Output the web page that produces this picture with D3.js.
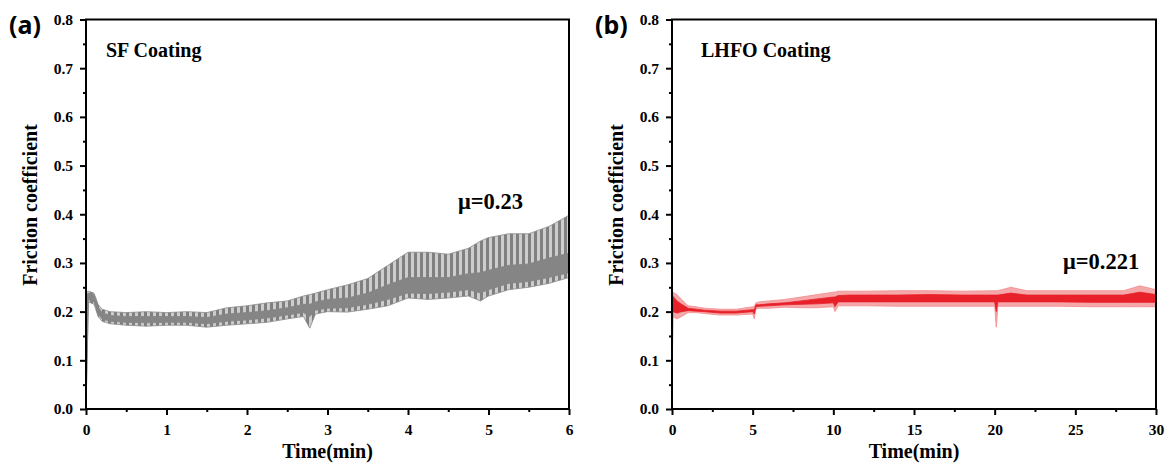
<!DOCTYPE html>
<html>
<head>
<meta charset="utf-8">
<script src="https://cdn.jsdelivr.net/npm/d3@7"></script>
<style>
  html, body { margin: 0; padding: 0; background: #fff; }
  svg { display: block; }
  .tick text { font-family: "Liberation Serif", "Times New Roman", serif; font-weight: bold; font-size: 15.5px; fill: #000; }
</style>
</head>
<body>
<svg id="chart" width="1166" height="466"></svg>
<script>
// ---------- DATA ----------
// Panel (a): SF coating, time in minutes, friction coefficient envelopes
const sfTime     = [0, 0.03, 0.1, 0.15, 0.2, 0.3, 0.5, 0.75, 1.0, 1.25, 1.5, 1.75, 2.0, 2.25, 2.5, 2.7, 2.78, 2.85, 3.0, 3.25, 3.5, 3.75, 4.0, 4.25, 4.5, 4.75, 4.9, 5.0, 5.25, 5.5, 5.75, 6.0];
const sfLow      = [0, 0.22, 0.215, 0.19, 0.18, 0.175, 0.172, 0.17, 0.172, 0.172, 0.168, 0.172, 0.175, 0.178, 0.185, 0.19, 0.166, 0.195, 0.2, 0.199, 0.205, 0.212, 0.228, 0.225, 0.228, 0.232, 0.222, 0.232, 0.245, 0.25, 0.258, 0.27];
const sfHigh     = [0.24, 0.242, 0.238, 0.215, 0.205, 0.2, 0.198, 0.2, 0.198, 0.2, 0.198, 0.208, 0.212, 0.218, 0.222, 0.232, 0.235, 0.238, 0.245, 0.255, 0.268, 0.295, 0.322, 0.322, 0.318, 0.33, 0.345, 0.352, 0.36, 0.36, 0.375, 0.398];
const sfCoreLow  = [0, 0.225, 0.22, 0.195, 0.185, 0.18, 0.178, 0.177, 0.178, 0.178, 0.175, 0.18, 0.183, 0.187, 0.193, 0.198, 0.19, 0.203, 0.207, 0.208, 0.215, 0.225, 0.238, 0.237, 0.24, 0.245, 0.238, 0.245, 0.258, 0.262, 0.27, 0.28];
const sfCoreHigh = [0.235, 0.238, 0.235, 0.21, 0.198, 0.192, 0.19, 0.19, 0.19, 0.19, 0.188, 0.195, 0.198, 0.202, 0.208, 0.215, 0.215, 0.22, 0.225, 0.228, 0.238, 0.255, 0.27, 0.27, 0.27, 0.278, 0.28, 0.285, 0.295, 0.298, 0.31, 0.32];

// Panel (b): LHFO coating
const lhTime     = [0, 0.05, 0.3, 0.6, 1, 1.5, 2, 3, 4, 5, 5.1, 5.2, 5.4, 6, 7, 8, 9, 10, 10.1, 10.3, 11, 12, 14, 16, 18, 20, 20.1, 20.2, 21, 22, 24, 26, 28, 29, 30];
const lhLow      = [0, 0.19, 0.185, 0.19, 0.198, 0.198, 0.196, 0.193, 0.193, 0.195, 0.185, 0.205, 0.207, 0.207, 0.209, 0.208, 0.208, 0.21, 0.2, 0.212, 0.212, 0.212, 0.211, 0.211, 0.211, 0.211, 0.168, 0.211, 0.211, 0.211, 0.211, 0.21, 0.21, 0.21, 0.21];
const lhHigh     = [0.24, 0.24, 0.235, 0.225, 0.212, 0.21, 0.207, 0.205, 0.205, 0.21, 0.21, 0.218, 0.22, 0.222, 0.225, 0.23, 0.235, 0.24, 0.24, 0.242, 0.242, 0.242, 0.243, 0.243, 0.242, 0.243, 0.243, 0.243, 0.25, 0.243, 0.243, 0.243, 0.243, 0.253, 0.245];
const lhCoreLow  = [0, 0.2, 0.197, 0.2, 0.202, 0.201, 0.2, 0.197, 0.197, 0.2, 0.195, 0.21, 0.211, 0.212, 0.214, 0.215, 0.216, 0.218, 0.21, 0.22, 0.22, 0.22, 0.22, 0.22, 0.22, 0.22, 0.2, 0.22, 0.22, 0.22, 0.22, 0.219, 0.219, 0.219, 0.219];
const lhCoreHigh = [0.235, 0.232, 0.222, 0.215, 0.207, 0.205, 0.203, 0.201, 0.201, 0.204, 0.204, 0.214, 0.214, 0.216, 0.218, 0.222, 0.226, 0.23, 0.23, 0.233, 0.234, 0.234, 0.234, 0.235, 0.234, 0.234, 0.234, 0.234, 0.238, 0.234, 0.234, 0.234, 0.234, 0.24, 0.235];

// Tick values / labels
const yTicks    = [0, 0.1, 0.2, 0.3, 0.4, 0.5, 0.6, 0.7, 0.8];
const yMinor    = [0.05, 0.15, 0.25, 0.35, 0.45, 0.55, 0.65, 0.75];
const sfXTicks  = [0, 1, 2, 3, 4, 5, 6];
const sfXMinor  = [0.5, 1.5, 2.5, 3.5, 4.5, 5.5];
const lhXTicks  = [0, 5, 10, 15, 20, 25, 30];
const lhXMinor  = [2.5, 7.5, 12.5, 17.5, 22.5, 27.5];

const panelLabels = ["(a)", "(b)"];
const coatingLabels = ["SF Coating", "LHFO Coating"];
const muLabels = ["μ=0.23", "μ=0.221"];
const xTitle = "Time(min)";
const yTitle = "Friction coefficient";

// ---------- DRAWING ----------
const svg = d3.select("#chart");
const defs = svg.append("defs");

// vertical stripe texture for the oscillating grey signal
const pat = defs.append("pattern").attr("id", "greyStripe")
  .attr("patternUnits", "userSpaceOnUse").attr("width", 6).attr("height", 10);
pat.append("rect").attr("width", 6).attr("height", 10).attr("fill", "#cdcdcd");
pat.append("rect").attr("width", 3).attr("height", 10).attr("fill", "#808080");

const serif = "'Liberation Serif', 'Times New Roman', serif";
const plotTop = 19.5, plotBottom = 409;

function panel(cfg) {
  const x = d3.scaleLinear().domain(cfg.xDomain).range([cfg.left, cfg.right]);
  const y = d3.scaleLinear().domain([0, 0.8]).range([plotBottom, plotTop]);

  const clipId = "clip" + cfg.idx;
  defs.append("clipPath").attr("id", clipId).append("rect")
    .attr("x", cfg.left).attr("y", plotTop).attr("width", cfg.right - cfg.left).attr("height", plotBottom - plotTop);

  const g = svg.append("g").attr("clip-path", `url(#${clipId})`);
  const outer = cfg.time.map((t, i) => ({ t, lo: cfg.low[i], hi: cfg.high[i] }));
  const core = cfg.time.map((t, i) => ({ t, lo: cfg.coreLow[i], hi: cfg.coreHigh[i] }));
  const area = d3.area().x(d => x(d.t)).y0(d => y(d.lo)).y1(d => y(d.hi));

  g.append("path").datum(outer).attr("d", area)
    .attr("fill", cfg.outerFill).attr("stroke", cfg.outerStroke).attr("stroke-width", 0.8);
  g.append("path").datum(core).attr("d", area)
    .attr("fill", cfg.coreFill).attr("stroke", cfg.coreFill).attr("stroke-width", 0.8);

  // Axes
  const ax = svg.append("g");
  ax.append("g").attr("transform", `translate(${cfg.left},0)`)
    .call(d3.axisLeft(y).tickValues(yTicks).tickFormat(d3.format(".1f")).tickSize(6).tickSizeOuter(0).tickPadding(7))
    .call(s => s.select(".domain").remove())
    .call(s => s.selectAll("line").attr("stroke", "#000").attr("stroke-width", 2));
  ax.append("g").attr("transform", `translate(${cfg.left},0)`)
    .call(d3.axisLeft(y).tickValues(yMinor).tickFormat("").tickSize(3).tickSizeOuter(0))
    .call(s => s.select(".domain").remove())
    .call(s => s.selectAll("line").attr("stroke", "#000").attr("stroke-width", 2));
  ax.append("g").attr("transform", `translate(0,${plotBottom})`)
    .call(d3.axisBottom(x).tickValues(cfg.xTicks).tickFormat(d3.format("d")).tickSize(6).tickSizeOuter(0).tickPadding(9))
    .call(s => s.select(".domain").remove())
    .call(s => s.selectAll("line").attr("stroke", "#000").attr("stroke-width", 2));
  ax.append("g").attr("transform", `translate(0,${plotBottom})`)
    .call(d3.axisBottom(x).tickValues(cfg.xMinor).tickFormat("").tickSize(3).tickSizeOuter(0))
    .call(s => s.select(".domain").remove())
    .call(s => s.selectAll("line").attr("stroke", "#000").attr("stroke-width", 2));

  // Frame
  svg.append("rect").attr("x", cfg.left).attr("y", plotTop)
    .attr("width", cfg.right - cfg.left).attr("height", plotBottom - plotTop)
    .attr("fill", "none").attr("stroke", "#000").attr("stroke-width", 2);

  // Texts
  svg.append("text").attr("x", cfg.left - 77).attr("y", 34)
    .attr("font-family", "'Noto Sans', 'DejaVu Sans', sans-serif").attr("font-weight", 700)
    .attr("font-size", 25).text(panelLabels[cfg.idx]);
  svg.append("text").attr("x", cfg.left + 20 + cfg.labelShift).attr("y", 57)
    .attr("font-family", serif).attr("font-weight", 700).attr("font-size", 20)
    .text(coatingLabels[cfg.idx]);
  svg.append("text").attr("x", cfg.muX).attr("y", cfg.muY)
    .attr("font-family", serif).attr("font-weight", 700).attr("font-size", 22.5)
    .text(muLabels[cfg.idx]);
  svg.append("text").attr("x", (cfg.left + cfg.right) / 2).attr("y", 458)
    .attr("text-anchor", "middle")
    .attr("font-family", serif).attr("font-weight", 700).attr("font-size", 20)
    .text(xTitle);
  svg.append("text").attr("transform", `translate(${cfg.left - 49},205) rotate(-90)`)
    .attr("text-anchor", "middle")
    .attr("font-family", serif).attr("font-weight", 700).attr("font-size", 20)
    .text(yTitle);
}

panel({
  idx: 0, left: 86, right: 569, xDomain: [0, 6],
  time: sfTime, low: sfLow, high: sfHigh, coreLow: sfCoreLow, coreHigh: sfCoreHigh,
  xTicks: sfXTicks, xMinor: sfXMinor,
  outerFill: "url(#greyStripe)", outerStroke: "#8c8c8c", coreFill: "#858585",
  labelShift: 0, muX: 458, muY: 209
});
panel({
  idx: 1, left: 672, right: 1156, xDomain: [0, 30],
  time: lhTime, low: lhLow, high: lhHigh, coreLow: lhCoreLow, coreHigh: lhCoreHigh,
  xTicks: lhXTicks, xMinor: lhXMinor,
  outerFill: "#f5a8aa", outerStroke: "#f28a8d", coreFill: "#e8202a",
  labelShift: 9, muX: 1063, muY: 269
});
</script>
</body>
</html>
